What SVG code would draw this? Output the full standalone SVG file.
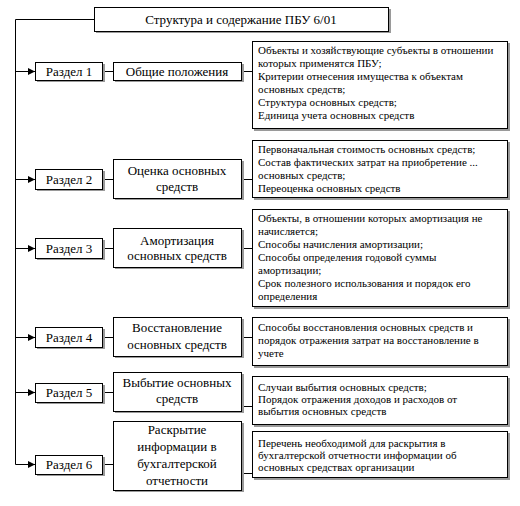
<svg xmlns="http://www.w3.org/2000/svg" width="520" height="506" viewBox="0 0 520 506">
<style>
.box{fill:#fff;stroke:#000;stroke-width:1}
.sh{fill:#9a9a9a}
.ln{stroke:#000;stroke-width:1;fill:none}
text{font-family:"Liberation Serif","Times New Roman",serif;fill:#000}
.t12{font-size:13px;text-anchor:middle}
.d{font-size:11px}
</style>
<defs>
<marker id="ar" markerWidth="8" markerHeight="8" refX="7" refY="4" orient="auto" markerUnits="userSpaceOnUse">
<path d="M0,0.5 L7,4 L0,7.5 Z" fill="#000"/>
</marker>
</defs>
<rect width="520" height="506" fill="#fff"/>

<g id="connectors">
<path class="ln" d="M94.5,19.5 H15.5 V464.5"/>
<path class="ln" d="M15.5,71.5 H35" marker-end="url(#ar)"/>
<path class="ln" d="M15.5,179.5 H35" marker-end="url(#ar)"/>
<path class="ln" d="M15.5,248.5 H35" marker-end="url(#ar)"/>
<path class="ln" d="M15.5,337.5 H35" marker-end="url(#ar)"/>
<path class="ln" d="M15.5,392.5 H35" marker-end="url(#ar)"/>
<path class="ln" d="M15.5,464.5 H35" marker-end="url(#ar)"/>
<path class="ln" d="M103,71.5 H113"/>
<path class="ln" d="M103,179.5 H113"/>
<path class="ln" d="M103,248.5 H113"/>
<path class="ln" d="M103,337.5 H113"/>
<path class="ln" d="M103,392.5 H113"/>
<path class="ln" d="M103,464.5 H113"/>
<path class="ln" d="M242,71.5 H252"/>
<path class="ln" d="M242,179.5 H252"/>
<path class="ln" d="M242,248.5 H252"/>
<path class="ln" d="M242,337.5 H252"/>
<path class="ln" d="M242,406.5 H252"/>
<path class="ln" d="M242,473.5 H252"/>
</g>

<g id="title">
<rect class="sh" x="96" y="9" width="295" height="24"/>
<rect class="box" x="94.5" y="7.5" width="294" height="24"/>
<text class="t12" x="241" y="24">Структура и содержание ПБУ 6/01</text>
</g>

<g id="r1">
<rect class="sh" x="37" y="64" width="68" height="18"/>
<rect class="box" x="35.5" y="62.5" width="67" height="18"/>
<text class="t12" x="69" y="76">Раздел 1</text>
</g>
<g id="c1">
<rect class="sh" x="115" y="64" width="129" height="18"/>
<rect class="box" x="113.5" y="62.5" width="128" height="18"/>
<text class="t12" x="177" y="76">Общие положения</text>
</g>
<g id="d1">
<rect class="sh" x="254" y="43" width="256" height="88"/>
<rect class="box" x="252.5" y="41.5" width="255" height="87"/>
<text class="d" x="258" y="54">Объекты и хозяйствующие субъекты в отношении</text>
<text class="d" x="258" y="67">которых применятся ПБУ;</text>
<text class="d" x="258" y="80">Критерии отнесения имущества к объектам</text>
<text class="d" x="258" y="93">основных средств;</text>
<text class="d" x="258" y="106">Структура основных средств;</text>
<text class="d" x="258" y="119">Единица учета основных средств</text>
</g>

<g id="r2">
<rect class="sh" x="37" y="171" width="68" height="20"/>
<rect class="box" x="35.5" y="169.5" width="67" height="20"/>
<text class="t12" x="69" y="184">Раздел 2</text>
</g>
<g id="c2">
<rect class="sh" x="115" y="161" width="129" height="39"/>
<rect class="box" x="113.5" y="159.5" width="128" height="39"/>
<text class="t12" x="177" y="175">Оценка основных</text>
<text class="t12" x="177" y="191">средств</text>
</g>
<g id="d2">
<rect class="sh" x="254" y="142" width="256" height="58"/>
<rect class="box" x="252.5" y="140.5" width="255" height="57"/>
<text class="d" x="258" y="153">Первоначальная стоимость основных средств;</text>
<text class="d" x="258" y="166">Состав фактических затрат на приобретение ...</text>
<text class="d" x="258" y="179">основных средств;</text>
<text class="d" x="258" y="192">Переоценка основных средств</text>
</g>

<g id="r3">
<rect class="sh" x="37" y="240" width="68" height="20"/>
<rect class="box" x="35.5" y="238.5" width="67" height="20"/>
<text class="t12" x="69" y="253">Раздел 3</text>
</g>
<g id="c3">
<rect class="sh" x="115" y="230" width="129" height="39"/>
<rect class="box" x="113.5" y="228.5" width="128" height="39"/>
<text class="t12" x="177" y="245">Амортизация</text>
<text class="t12" x="177" y="260">основных средств</text>
</g>
<g id="d3">
<rect class="sh" x="254" y="211" width="256" height="98"/>
<rect class="box" x="252.5" y="209.5" width="255" height="97"/>
<text class="d" x="258" y="222">Объекты, в  отношении которых амортизация не</text>
<text class="d" x="258" y="235">начисляется;</text>
<text class="d" x="258" y="248">Способы начисления амортизации;</text>
<text class="d" x="258" y="261">Способы определения годовой суммы</text>
<text class="d" x="258" y="274">амортизации;</text>
<text class="d" x="258" y="287">Срок полезного использования и порядок его</text>
<text class="d" x="258" y="300">определения</text>
</g>

<g id="r4">
<rect class="sh" x="37" y="329" width="68" height="20"/>
<rect class="box" x="35.5" y="327.5" width="67" height="20"/>
<text class="t12" x="69" y="342">Раздел 4</text>
</g>
<g id="c4">
<rect class="sh" x="115" y="319" width="129" height="39"/>
<rect class="box" x="113.5" y="317.5" width="128" height="39"/>
<text class="t12" x="177" y="332">Восстановление</text>
<text class="t12" x="177" y="349">основных средств</text>
</g>
<g id="d4">
<rect class="sh" x="254" y="319" width="256" height="49"/>
<rect class="box" x="252.5" y="317.5" width="255" height="48"/>
<text class="d" x="258" y="331">Способы восстановления основных средств и</text>
<text class="d" x="258" y="344">порядок отражения затрат на восстановление в</text>
<text class="d" x="258" y="357">учете</text>
</g>

<g id="r5">
<rect class="sh" x="37" y="385" width="68" height="19"/>
<rect class="box" x="35.5" y="383.5" width="67" height="19"/>
<text class="t12" x="69" y="397">Раздел 5</text>
</g>
<g id="c5">
<rect class="sh" x="115" y="374" width="129" height="39"/>
<rect class="box" x="113.5" y="372.5" width="128" height="39"/>
<text class="t12" x="177" y="387">Выбытие основных</text>
<text class="t12" x="177" y="403">средств</text>
</g>
<g id="d5">
<rect class="sh" x="254" y="378" width="256" height="49"/>
<rect class="box" x="252.5" y="376.5" width="255" height="48"/>
<text class="d" x="258" y="391">Случаи выбытия основных средств;</text>
<text class="d" x="258" y="403">Порядок отражения доходов и расходов от</text>
<text class="d" x="258" y="415">выбытия основных средств</text>
</g>

<g id="r6">
<rect class="sh" x="37" y="457" width="68" height="19"/>
<rect class="box" x="35.5" y="455.5" width="67" height="19"/>
<text class="t12" x="69" y="469">Раздел 6</text>
</g>
<g id="c6">
<rect class="sh" x="115" y="423" width="129" height="69"/>
<rect class="box" x="113.5" y="421.5" width="128" height="69"/>
<text class="t12" x="177" y="434">Раскрытие</text>
<text class="t12" x="177" y="451">информации в</text>
<text class="t12" x="177" y="468">бухгалтерской</text>
<text class="t12" x="177" y="485">отчетности</text>
</g>
<g id="d6">
<rect class="sh" x="254" y="433" width="256" height="47"/>
<rect class="box" x="252.5" y="431.5" width="255" height="46"/>
<text class="d" x="258" y="447">Перечень необходимой для раскрытия в</text>
<text class="d" x="258" y="459">бухгалтерской отчетности информации об</text>
<text class="d" x="258" y="471">основных средствах организации</text>
</g>
</svg>
